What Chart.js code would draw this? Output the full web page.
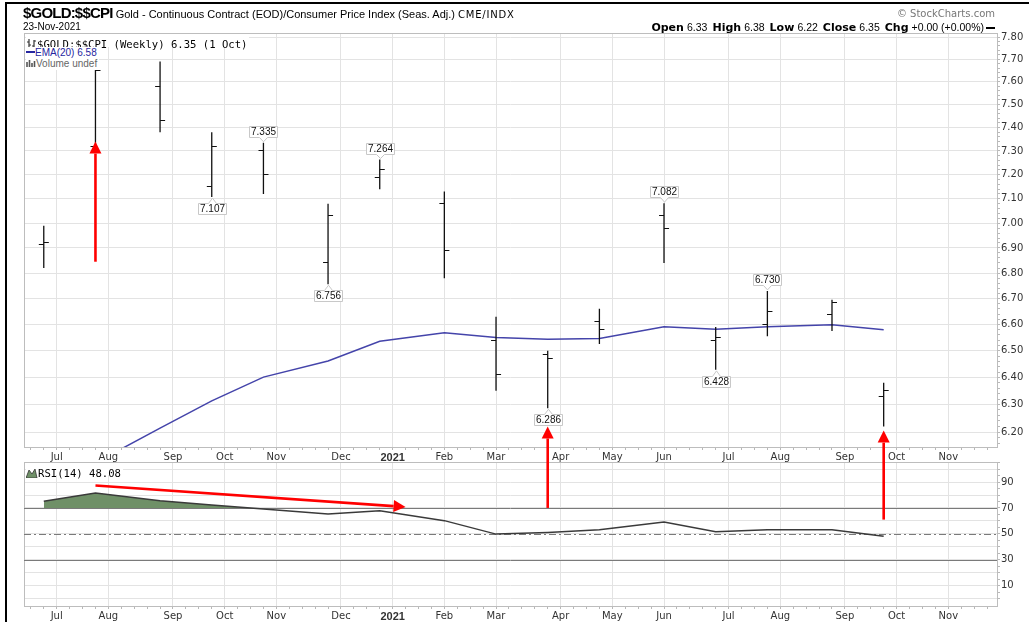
<!DOCTYPE html>
<html>
<head>
<meta charset="utf-8">
<script src="https://cdn.jsdelivr.net/npm/chart.js@4.4.0/dist/chart.umd.min.js"></script>
<style>
  body { margin:0; background:#fff; }
  #wrap { position:relative; width:1029px; height:622px; overflow:hidden; font-family:"Liberation Sans", Arial, sans-serif; color:#000; }
  canvas { position:absolute; left:0; top:0; }
  .t { position:absolute; white-space:nowrap; line-height:1.15; }
  .box { background:#fff; }
  .mono { font:10.6px "DejaVu Sans Mono", monospace; }
  .lb { font:bold 11px "DejaVu Sans", Verdana, sans-serif; }
  .vl { font:10.5px "Liberation Sans", Arial, sans-serif; margin-right:5px; }
</style>
</head>
<body>
<div id="wrap">
  <canvas id="price" width="1029" height="622"></canvas>
  <canvas id="rsi" width="1029" height="622"></canvas>

  <div style="position:absolute;left:5px;top:2px;width:1024px;height:2px;background:#000"></div>
  <div style="position:absolute;left:5px;top:2px;width:2px;height:620px;background:#000"></div>

  <div class="t" style="left:23px;top:4px;font-size:11px">
    <span style="font:bold 15px 'Liberation Sans',Arial;letter-spacing:-0.8px">$GOLD:$$CPI</span>
    <span style="font:11px 'Liberation Sans',Arial">Gold - Continuous Contract (EOD)/Consumer Price Index (Seas. Adj.)</span>
    <span style="font:10px 'DejaVu Sans';letter-spacing:0.8px">CME/INDX</span>
  </div>
  <div class="t" style="left:23px;top:21px;font-size:10px">23-Nov-2021</div>
  <div class="t" style="right:34px;top:8px;font:10px 'DejaVu Sans';color:#777">&copy; StockCharts.com</div>
  <div class="t" style="right:34px;top:21px;font-size:11px">
    <span class="lb">Open</span> <span class="vl">6.33</span><span class="lb">High</span> <span class="vl">6.38</span><span class="lb">Low</span> <span class="vl">6.22</span><span class="lb">Close</span> <span class="vl">6.35</span><span class="lb">Chg</span> <span class="vl" style="margin-right:2px">+0.00 (+0.00%)</span><span style="display:inline-block;width:9px;height:2px;background:#000;vertical-align:middle"></span>
  </div>

  <div class="t box" style="left:26px;top:34px;height:13px;padding-right:2px">
    <svg width="11" height="10" style="vertical-align:-1px"><path d="M3 0V10M1 3H3M3 6H5M8 1V9M6 7H8M8 2H10" stroke="#333" stroke-width="1.2" fill="none"/></svg><span class="mono">$GOLD:$$CPI (Weekly) 6.35 (1 Oct)</span>
  </div>
  <div class="t box" style="left:26px;top:47px;font-size:10px;color:#2626a0;padding-right:2px">
    <span style="display:inline-block;width:9px;height:2px;background:#2626a0;vertical-align:3px"></span>EMA(20) 6.58
  </div>
  <div class="t box" style="left:26px;top:58px;font-size:10px;color:#666;padding-right:2px">
    <svg width="10" height="8" style="vertical-align:0"><path d="M1 8V3M3.5 8V1M6 8V4M8.5 8V2" stroke="#555" stroke-width="1.6"/></svg>Volume undef
  </div>
  <div class="t box" style="left:26px;top:463px;height:12px;padding-right:2px">
    <svg width="12" height="10" style="vertical-align:-1px"><path d="M0 10L3 2L6 6L9 1L11 10Z" fill="#6f9067" stroke="#333" stroke-width="0.8"/></svg><span class="mono">RSI(14) 48.08</span>
  </div>
</div>

<script>
const $ = (id) => document.getElementById(id);
Chart.defaults.font.family = '"DejaVu Sans", Verdana, sans-serif';
Chart.defaults.font.size = 10;
Chart.defaults.color = '#333';
Chart.defaults.animation = false;

// weekly bars (week 0 = first week of Jul 2020)
const barWeek = [-1, 3, 8, 12, 16, 21, 25, 30, 34, 38, 42, 47, 51, 55, 60, 64];
const opens  = [6.915, 7.32, 7.58, 7.15, 7.30, 6.84, 7.19, 7.08, 6.54, 6.485, 6.61, 7.03, 6.54, 6.60, 6.64, 6.33];
const highs  = [6.99, 7.66, 7.69, 7.38, 7.335, 7.08, 7.264, 7.13, 6.63, 6.50, 6.66, 7.082, 6.59, 6.73, 6.695, 6.38];
const lows   = [6.82, 7.31, 7.38, 7.107, 7.12, 6.756, 7.14, 6.78, 6.35, 6.286, 6.525, 6.84, 6.428, 6.555, 6.575, 6.22];
const closes = [6.92, 7.65, 7.43, 7.32, 7.20, 7.03, 7.22, 6.89, 6.41, 6.47, 6.58, 6.98, 6.55, 6.65, 6.685, 6.35];
const ema20  = [5.97, 6.09, 6.214, 6.313, 6.401, 6.461, 6.536, 6.568, 6.550, 6.543, 6.546, 6.591, 6.582, 6.591, 6.599, 6.58];
const rsi14  = [75.1, 81.6, 75.5, 72.2, 69.2, 65.3, 67.9, 60.2, 49.8, 51.1, 53.2, 59.1, 51.6, 53.2, 53.2, 48.08];

const monthWeeks  = [0, 4, 9, 13, 17, 22, 26, 30, 34, 39, 43, 47, 52, 56, 61, 65, 69];
const monthLabels = ['Jul','Aug','Sep','Oct','Nov','Dec','2021','Feb','Mar','Apr','May','Jun','Jul','Aug','Sep','Oct','Nov'];
const rsiLabels = [10, 30, 50, 70, 90];
const rsiLevels = [70, 50, 30];

// swing high / low callouts: [bar index, 'H' | 'L']
const callouts = [[3,'L'], [4,'H'], [5,'L'], [6,'H'], [9,'L'], [11,'H'], [12,'L'], [13,'H']];
// hand-drawn red arrows: [week, panel, value] -> [week, panel, value]
const arrows = [
  [[3, 'p', 6.845], [3, 'p', 7.34]],
  [[38, 'r', 70], [38, 'p', 6.22]],
  [[64, 'r', 61], [64, 'p', 6.205]],
  [[3, 'r', 87.3], [27, 'r', 70.8]]
];

const X_MIN = -2.53, X_MAX = 72.77;
const P_MIN = 6.1462, P_MAX = 7.8182;
const GRID = '#e3e3e3', TICK = '#b8b8b8', FRAME = '#bdbdbd';
const isTenth = (v) => Math.abs(v * 10 - Math.round(v * 10)) < 1e-6;
let priceChart, rsiChart;

function tickImg(side) {
  const c = document.createElement('canvas');
  c.width = 12; c.height = 1;
  const g = c.getContext('2d');
  g.fillStyle = '#111';
  g.fillRect(side === 'left' ? 1 : 6, 0, 5, 1);
  return c;
}

function xAxis(height) {
  return {
    type: 'linear', min: X_MIN, max: X_MAX,
    afterBuildTicks: (s) => {
      s.ticks = []; for (let w = -2; w <= 72; w++) s.ticks.push({value: w});
      s.min = X_MIN; s.max = X_MAX;
    },
    afterFit: (s) => { s.height = height; },
    border: {display: false},
    grid: {
      color: (c) => c.tick && monthWeeks.includes(c.tick.value) ? GRID : 'rgba(0,0,0,0)',
      tickColor: TICK, tickLength: 3
    },
    ticks: {
      autoSkip: false, maxRotation: 0, padding: 1, color: '#333',
      callback: (v) => { const i = monthWeeks.indexOf(v); return i < 0 ? '' : monthLabels[i]; },
      font: (c) => (c.tick && monthLabels[monthWeeks.indexOf(c.tick.value)] === '2021')
        ? {family: '"Liberation Sans", Arial, sans-serif', size: 11, weight: 'bold'}
        : {size: 10}
    }
  };
}

const framePlugin = {
  id: 'frame',
  beforeDatasetsDraw(chart) {
    const {ctx, chartArea: a} = chart;
    ctx.save();
    ctx.strokeStyle = FRAME; ctx.lineWidth = 1;
    ctx.strokeRect(Math.round(a.left) + 0.5, Math.round(a.top) + 0.5, Math.round(a.right - a.left), Math.round(a.bottom - a.top));
    ctx.restore();
  }
};

const calloutPlugin = {
  id: 'callouts',
  afterDatasetsDraw(chart) {
    const {ctx, scales: {x, y}} = chart;
    ctx.save();
    ctx.font = '10px "Liberation Sans", Arial, sans-serif';
    ctx.textAlign = 'center'; ctx.textBaseline = 'middle';
    callouts.forEach(([i, side]) => {
      const v = side === 'H' ? highs[i] : lows[i];
      const px = Math.round(x.getPixelForValue(barWeek[i]));
      const py = y.getPixelForValue(v);
      const txt = v.toFixed(3);
      const w = Math.round(ctx.measureText(txt).width + 3), h = 11;
      const l = Math.round(px - w / 2) + 0.5, r = l + w;
      let top, bot;
      if (side === 'H') { bot = Math.round(py - 6) + 0.5; top = bot - h; }
      else { top = Math.round(py + 6) + 0.5; bot = top + h; }
      ctx.beginPath();
      if (side === 'H') {
        ctx.moveTo(l, top); ctx.lineTo(r, top);
        ctx.lineTo(r, bot); ctx.lineTo(px + 4.5, bot); ctx.lineTo(px + 0.5, py - 1); ctx.lineTo(px - 3.5, bot); ctx.lineTo(l, bot);
      } else {
        ctx.moveTo(l, top); ctx.lineTo(px - 3.5, top); ctx.lineTo(px + 0.5, py + 1); ctx.lineTo(px + 4.5, top);
        ctx.lineTo(r, top); ctx.lineTo(r, bot); ctx.lineTo(l, bot);
      }
      ctx.closePath();
      ctx.fillStyle = '#fff'; ctx.fill();
      ctx.strokeStyle = '#c8c8c8'; ctx.lineWidth = 1; ctx.stroke();
      ctx.fillStyle = '#111';
      ctx.fillText(txt, px + 0.5, (top + bot) / 2 + 0.5);
    });
    ctx.restore();
  }
};

const levelPlugin = {
  id: 'levels',
  beforeDatasetsDraw(chart) {
    const {ctx, chartArea: a, scales: {y}} = chart;
    ctx.save();
    ctx.strokeStyle = '#7a7a7a'; ctx.lineWidth = 1;
    rsiLevels.forEach((lv) => {
      const py = Math.round(y.getPixelForValue(lv)) + 0.5;
      ctx.setLineDash(lv === 50 ? [7, 3, 2, 3] : []);
      ctx.beginPath(); ctx.moveTo(a.left, py); ctx.lineTo(a.right, py); ctx.stroke();
    });
    ctx.restore();
  }
};

function drawArrow(ctx, x1, y1, x2, y2) {
  const ang = Math.atan2(y2 - y1, x2 - x1), len = 12, hw = 6;
  const bx = x2 - len * Math.cos(ang), by = y2 - len * Math.sin(ang);
  ctx.beginPath(); ctx.moveTo(x1, y1); ctx.lineTo(bx, by); ctx.stroke();
  ctx.beginPath();
  ctx.moveTo(x2, y2);
  ctx.lineTo(bx + hw * Math.sin(ang), by - hw * Math.cos(ang));
  ctx.lineTo(bx - hw * Math.sin(ang), by + hw * Math.cos(ang));
  ctx.closePath(); ctx.fill();
}

const arrowPlugin = {
  id: 'arrows',
  afterDraw(chart) {
    if (!priceChart) return;
    const pt = ([w, panel, v]) => {
      const c = panel === 'p' ? priceChart : chart;
      return [c.scales.x.getPixelForValue(w), c.scales.y.getPixelForValue(v)];
    };
    const ctx = chart.ctx;
    ctx.save();
    ctx.strokeStyle = '#ff0000'; ctx.fillStyle = '#ff0000'; ctx.lineWidth = 2.6;
    arrows.forEach(([a, b]) => { const p = pt(a), q = pt(b); drawArrow(ctx, p[0], p[1], q[0], q[1]); });
    ctx.restore();
  }
};

const rangePts = [];
barWeek.forEach((w, i) => { rangePts.push({x: w, y: lows[i]}, {x: w, y: highs[i]}, {x: w, y: null}); });

priceChart = new Chart($('price'), {
  type: 'line',
  data: {
    datasets: [
      {data: barWeek.map((w, i) => ({x: w, y: opens[i]})), showLine: false, pointStyle: tickImg('left'), pointRadius: 3},
      {data: barWeek.map((w, i) => ({x: w, y: closes[i]})), showLine: false, pointStyle: tickImg('right'), pointRadius: 3},
      {data: rangePts, borderColor: '#111', borderWidth: 1.3, pointRadius: 0, spanGaps: false},
      {data: barWeek.map((w, i) => ({x: w, y: ema20[i]})), borderColor: '#4444aa', borderWidth: 1.5, pointRadius: 0, tension: 0}
    ]
  },
  options: {
    responsive: false, events: [],
    layout: {padding: {top: 33, left: 24, right: 0, bottom: 160}},
    plugins: {legend: {display: false}, tooltip: {enabled: false}},
    scales: {
      x: xAxis(15),
      y: {
        type: 'logarithmic', position: 'right', min: P_MIN, max: P_MAX, bounds: 'data',
        afterBuildTicks: (s) => {
          s.ticks = []; for (let k = 308; k <= 390; k++) s.ticks.push({value: k / 50});
          s.min = P_MIN; s.max = P_MAX;
        },
        afterFit: (s) => { s.width = 32; },
        border: {display: false},
        grid: {color: (c) => c.tick && isTenth(c.tick.value) ? GRID : 'rgba(0,0,0,0)', tickColor: TICK, tickLength: 3},
        ticks: {autoSkip: false, padding: 1, color: '#333', callback: (v) => isTenth(v) ? Number(v).toFixed(2) : ''}
      }
    }
  },
  plugins: [framePlugin, calloutPlugin]
});

rsiChart = new Chart($('rsi'), {
  type: 'line',
  data: {
    datasets: [{
      data: barWeek.map((w, i) => ({x: w, y: rsi14[i]})),
      borderColor: '#3a3a3a', borderWidth: 1.5, pointRadius: 0, tension: 0,
      fill: {target: {value: 70}, above: '#6f9067', below: 'rgba(0,0,0,0)'}
    }]
  },
  options: {
    responsive: false, events: [],
    layout: {padding: {top: 462, left: 24, right: 0, bottom: 0}},
    plugins: {legend: {display: false}, tooltip: {enabled: false}},
    scales: {
      x: xAxis(16),
      y: {
        type: 'linear', position: 'right', min: -5.73, max: 105.5,
        afterBuildTicks: (s) => {
          s.ticks = []; for (let v = 0; v <= 105; v += 5) s.ticks.push({value: v});
          s.min = -5.73; s.max = 105.5;
        },
        afterFit: (s) => { s.width = 32; },
        border: {display: false},
        grid: {color: (c) => c.tick && c.tick.value % 10 === 0 && c.tick.value <= 100 ? GRID : 'rgba(0,0,0,0)', tickColor: TICK, tickLength: 3},
        ticks: {autoSkip: false, padding: 1, color: '#333', callback: (v) => rsiLabels.includes(v) ? String(v) : ''}
      }
    }
  },
  plugins: [framePlugin, levelPlugin, arrowPlugin]
});
</script>
</body>
</html>
